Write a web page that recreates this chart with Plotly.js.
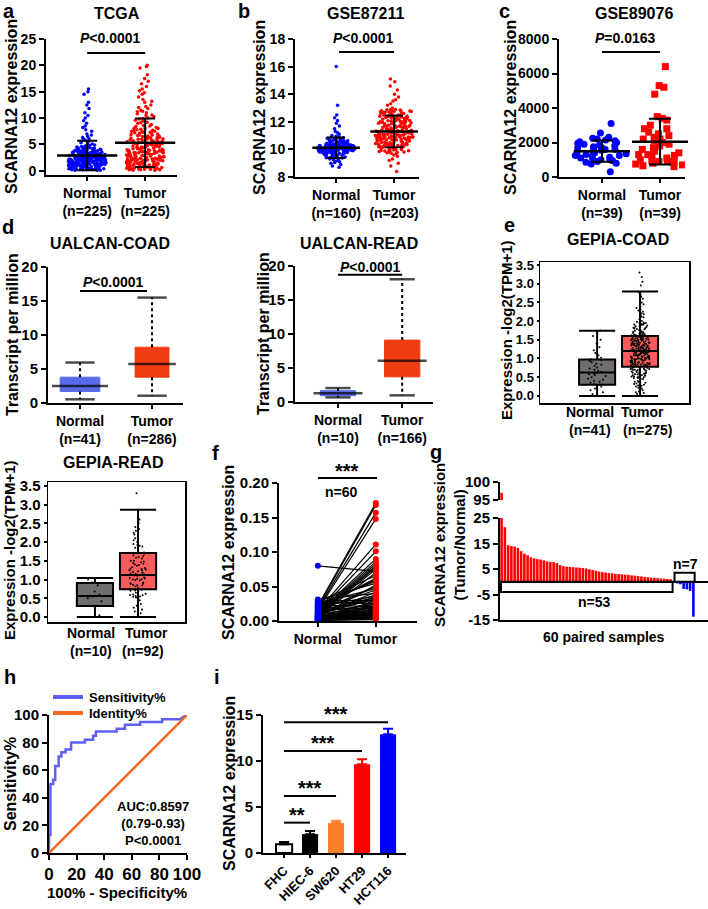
<!DOCTYPE html>
<html><head><meta charset="utf-8">
<script src="https://cdn.plot.ly/plotly-3.0.1.min.js"></script>
<style>html,body{margin:0;padding:0;background:#fff;}#chart{width:708px;height:909px;}</style>
</head><body><div id="chart"></div>
<script>
// ---------------- DATA ----------------
const groups = ['Normal', 'Tumor'];
const nA = ['(n=225)', '(n=225)'];
const nB = ['(n=160)', '(n=203)'];
const nC = ['(n=39)', '(n=39)'];
const nD1 = ['(n=41)', '(n=286)'];
const nD2 = ['(n=10)', '(n=166)'];
const nE = ['(n=41)', '(n=275)'];
const nR = ['(n=10)', '(n=92)'];

// a: TCGA
const tcgaNormal = [15.5,15.0,14.5,13.0,12.5,11.8,11.0,10.5,10.0,9.5,9.0,8.5,8.2,7.8,7.5,
7.0,6.8,6.5,6.3,6.1,6.0,5.8,5.6,5.5,5.3,5.1,5.0,4.9,4.8,4.7,
0.1,0.3,0.5,0.8,1.0,1.2,1.5,1.7,2.0,2.2,2.5,2.8,3.1,3.5,4.0,
0.2,0.4,0.7,0.9,1.1,1.4,1.6,1.9,2.1,2.4,2.6,2.9,3.3,3.8,4.4,
0.3,0.6,0.8,1.0,1.3,1.5,1.8,2.0,2.3,2.5,2.7,3.0,3.4,3.9,4.5,
0.1,0.4,0.6,0.9,1.2,1.4,1.7,1.9,2.2,2.4,2.7,3.0,3.2,3.6,4.2,
0.2,0.5,0.7,1.0,1.3,1.6,1.8,2.1,2.3,2.6,2.9,3.1,3.4,3.7,4.1,
0.4,0.6,0.9,1.1,1.4,1.6,1.9,2.2,2.4,2.6,2.8,3.2,3.5,3.9,4.3,
0.2,0.5,0.8,1.0,1.2,1.5,1.7,2.0,2.3,2.5,2.8,3.0,3.3,3.6,4.6,
0.3,0.5,0.7,1.1,1.3,1.5,1.8,2.1,2.2,2.5,2.7,2.9,3.2,3.5,3.9,
0.1,0.4,0.7,0.9,1.2,1.4,1.6,1.9,2.1,2.3,2.6,2.9,3.1,3.4,3.8,
0.2,0.6,0.8,1.0,1.3,1.6,1.9,2.0,2.4,2.6,2.8,3.0,3.3,3.7,4.2,
0.3,0.5,0.9,1.1,1.4,1.7,1.8,2.1,2.3,2.5,2.7,3.1,3.4,3.8,4.4,
0.5,0.7,1.0,1.2,1.5,1.7,2.0,2.2,2.4,2.7,2.9,3.2,3.5,4.0,4.5,
0.4,0.6,0.9,1.2,1.4,1.7,1.9,2.2,2.4,2.6,3.0,3.3,3.6,4.1,4.3];
const tcgaTumor = [20,19.8,19.5,18.2,17.5,17.0,16.5,16.0,15.5,15.2,14.8,14.5,14.0,13.5,13.2,13.0,12.5,12.2,
12.0,11.8,11.5,11.3,11.0,10.8,10.5,10.3,10.0,9.8,9.6,9.4,9.2,9.0,8.8,8.6,8.4,8.2,8.0,11.2,10.6,9.9,9.1,8.5,8.1,
0.2,0.6,1.0,1.5,2.0,2.5,3.0,3.5,4.0,4.6,5.2,5.9,6.6,7.5,
0.3,0.7,1.2,1.6,2.1,2.6,3.1,3.6,4.2,4.8,5.4,6.0,6.8,7.7,
0.1,0.5,0.9,1.4,1.9,2.4,2.9,3.4,3.9,4.5,5.1,5.7,6.4,7.3,
0.4,0.8,1.1,1.7,2.2,2.7,3.2,3.7,4.3,4.9,5.5,6.2,7.0,7.9,
0.2,0.6,1.0,1.3,1.8,2.3,2.8,3.3,3.8,4.4,5.0,5.6,6.3,7.2,
0.3,0.7,1.1,1.6,2.0,2.5,3.0,3.6,4.1,4.7,5.3,5.9,6.7,7.6,
0.5,0.9,1.3,1.8,2.3,2.8,3.3,3.8,4.4,5.0,5.6,6.1,6.9,7.8,
0.2,0.6,1.2,1.5,2.1,2.6,3.1,3.5,4.0,4.6,5.2,5.8,6.5,7.4,
0.1,0.4,0.8,1.4,1.9,2.4,2.9,3.4,4.0,4.5,5.1,5.7,6.2,7.1,
0.3,0.8,1.2,1.7,2.2,2.7,3.2,3.7,4.2,4.8,5.4,6.0,6.6,7.5,
0.4,0.7,1.0,1.5,2.0,2.6,3.0,3.5,4.1,4.7,5.3,5.9,6.4,7.3,
0.2,0.5,0.9,1.3,1.8,2.3,2.9,3.4,3.9,4.4,5.0,5.5,6.1,6.8,
0.6,1.0,1.4,1.9,2.4,2.9,3.4,3.9,4.3,4.9,5.5,6.3,7.1,8.0];
const tcgaMean = [2.9, 5.3];
const tcgaSD = [2.8, 4.6];

// b: GSE87211
const gse87Normal = [16.0,13.2,12.5,12.3,12.1,11.9,11.7,11.5,11.3,11.2,11.1,11.0,10.95,10.9,8.7,8.8,8.9,9.0,9.05,9.1,
9.3,9.6,9.8,9.9,10.0,10.1,10.2,10.4,10.6,10.8,
9.4,9.7,9.8,9.95,10.05,10.15,10.25,10.35,10.5,10.7,
9.2,9.5,9.75,9.9,10.0,10.1,10.2,10.3,10.45,10.65,
9.5,9.7,9.85,9.95,10.05,10.12,10.22,10.4,10.55,10.85,
9.35,9.6,9.78,9.92,10.02,10.1,10.18,10.28,10.42,10.6,
9.45,9.65,9.82,9.97,10.07,10.14,10.24,10.33,10.48,10.75,
9.25,9.55,9.72,9.88,9.98,10.08,10.16,10.27,10.38,10.58,
9.55,9.75,9.86,9.94,10.04,10.11,10.21,10.31,10.44,10.62,
9.4,9.62,9.8,9.9,10.0,10.09,10.19,10.29,10.4,10.52,
9.3,9.58,9.76,9.89,9.99,10.06,10.17,10.26,10.36,10.68,
9.48,9.68,9.84,9.93,10.03,10.13,10.23,10.34,10.46,10.72,
9.38,9.63,9.79,9.91,10.01,10.1,10.2,10.3,10.5,10.8,
9.6,9.78,9.87,9.96,10.06,10.16,10.26,10.37,10.55,10.9,
9.15,9.45,9.7,9.85,9.97,10.05,10.14,10.24,10.39,10.63];
const gse87Tumor = [15.1,14.9,14.6,14.3,14.0,13.8,13.6,13.5,13.3,13.2,13.0,
8.4,8.8,9.0,9.2,9.3,9.5,9.6,
9.8,10.2,10.5,10.8,11.0,11.3,11.6,11.9,12.3,12.8,
9.9,10.3,10.6,10.9,11.1,11.4,11.7,12.0,12.4,12.9,
9.7,10.1,10.4,10.7,11.0,11.2,11.5,11.8,12.2,12.6,
10.0,10.4,10.7,10.9,11.2,11.4,11.7,12.1,12.5,12.7,
9.85,10.25,10.55,10.85,11.05,11.35,11.65,11.95,12.35,12.75,
10.05,10.35,10.65,10.95,11.15,11.45,11.75,12.05,12.45,12.85,
9.75,10.15,10.45,10.75,10.98,11.25,11.55,11.85,12.25,12.65,
9.95,10.3,10.6,10.88,11.08,11.38,11.68,12.0,12.38,12.78,
10.1,10.4,10.7,10.92,11.12,11.42,11.72,12.08,12.48,12.88,
9.8,10.2,10.52,10.82,11.02,11.32,11.62,11.92,12.28,12.7,
9.9,10.28,10.58,10.86,11.06,11.36,11.66,11.98,12.32,12.72,
10.0,10.38,10.68,10.9,11.1,11.4,11.7,12.02,12.42,12.82,
9.72,10.12,10.48,10.78,11.0,11.28,11.58,11.88,12.2,12.6,
9.92,10.32,10.62,10.84,11.04,11.34,11.64,11.94,12.3,12.74,
10.08,10.42,10.72,10.94,11.14,11.44,11.74,12.1,12.5,12.9,
9.82,10.22,10.5,10.8,11.01,11.3,11.6,11.9,12.26,12.68,
9.96,10.36,10.64,10.9,11.09,11.39,11.69,12.04,12.4,12.8,
9.88,10.18,10.46,10.76,10.99,11.27,11.57,11.87,12.18,12.58,
11.2,11.5,10.9,12.1,11.0];
const gse87Mean = [10.12, 11.3];
const gse87SD = [0.75, 1.15];

// c: GSE89076
const gse89Normal = [3100,2550,2300,2250,2200,2150,2100,2050,2000,1950,1900,1850,1800,1750,1700,1650,1600,1550,1500,1450,
1400,1350,1300,1250,1200,1150,1100,1050,1000,950,900,850,800,750,1600,1700,1250,1000,300];
const gse89Tumor = [6400,5300,5200,4800,3500,3400,3300,3000,2800,2600,2500,2400,2300,2200,2100,2000,1900,1800,1700,1600,
1500,1400,1300,1250,1200,1100,1000,950,900,850,800,750,700,650,600,2800,2200,1300,900];
const gse89Mean = [1500, 2050];
const gse89SD = [620, 1320];

// d: UALCAN box statistics
const ucoadMin = [0.54, 1.07], ucoadQ1 = [1.7, 3.8], ucoadMed = [2.5, 5.75], ucoadQ3 = [3.8, 8.2], ucoadMax = [5.95, 15.5];
const ureadMin = [0.68, 0.98], ureadQ1 = [0.93, 3.7], ureadMed = [1.27, 6.05], ureadQ3 = [1.66, 9.1], ureadMax = [2.05, 18.05];

// e: GEPIA-COAD
const gcoadMin = [0, 0], gcoadQ1 = [0.30, 0.78], gcoadMed = [0.625, 1.2], gcoadQ3 = [0.97, 1.60], gcoadMax = [1.74, 2.79];
const gcoadNormalPts = [0.0,0.05,0.1,0.15,0.2,0.25,0.28,0.3,0.32,0.35,0.38,0.4,0.43,0.46,0.5,0.53,0.56,0.6,0.62,0.64,
0.67,0.7,0.73,0.76,0.8,0.83,0.86,0.9,0.93,0.96,0.98,1.02,1.08,1.15,1.22,1.3,1.4,1.5,1.6,1.75,0.58];
const gcoadTumorPts = [0.30,0.60,0.80,0.95,1.08,1.20,1.32,1.45,1.60,1.85,2.30,
0.35,0.62,0.82,0.97,1.10,1.22,1.34,1.47,1.62,1.88,2.35,
0.25,0.58,0.78,0.93,1.06,1.18,1.30,1.43,1.58,1.82,2.25,
0.40,0.65,0.84,0.99,1.12,1.24,1.36,1.49,1.64,1.90,2.40,
0.20,0.55,0.76,0.91,1.04,1.16,1.28,1.41,1.56,1.80,2.20,
0.45,0.67,0.86,1.01,1.14,1.26,1.38,1.51,1.66,1.93,2.45,
0.15,0.52,0.74,0.89,1.02,1.14,1.26,1.39,1.54,1.78,2.15,
0.50,0.70,0.88,1.03,1.16,1.28,1.40,1.53,1.68,1.96,2.50,
0.10,0.50,0.72,0.87,1.00,1.12,1.24,1.37,1.52,1.75,2.10,
0.55,0.72,0.90,1.05,1.18,1.30,1.42,1.55,1.70,2.00,2.55,
0.05,0.48,0.70,0.85,0.98,1.10,1.22,1.35,1.50,1.72,2.05,
0.32,0.63,0.81,0.96,1.09,1.21,1.33,1.46,1.61,1.87,2.60,
0.28,0.59,0.79,0.94,1.07,1.19,1.31,1.44,1.59,1.84,2.00,
0.38,0.64,0.83,0.98,1.11,1.23,1.35,1.48,1.63,1.89,2.65,
0.22,0.56,0.77,0.92,1.05,1.17,1.29,1.42,1.57,1.81,1.95,
0.42,0.66,0.85,1.00,1.13,1.25,1.37,1.50,1.65,1.92,2.70,
0.18,0.54,0.75,0.90,1.03,1.15,1.27,1.40,1.55,1.79,2.12,
0.48,0.69,0.87,1.02,1.15,1.27,1.39,1.52,1.67,1.95,2.75,
0.12,0.51,0.73,0.88,1.01,1.13,1.25,1.38,1.53,1.76,2.18,
0.52,0.71,0.89,1.04,1.17,1.29,1.41,1.54,1.69,1.98,2.79,
0.08,0.49,0.71,0.86,0.99,1.11,1.23,1.36,1.51,1.74,2.28,
0.33,0.61,0.81,0.96,1.09,1.21,1.33,1.46,1.61,1.86,2.95,
0.27,0.57,0.79,0.94,1.07,1.19,1.31,1.44,1.59,1.83,3.05,
0.37,0.63,0.83,0.98,1.11,1.23,1.35,1.48,1.63,1.91,3.18,
0.00,0.45,0.69,0.84,0.97,1.09,1.21,1.34,1.49,1.71,3.30];

// GEPIA-READ
const greadMin = [0, 0], greadQ1 = [0.295, 0.74], greadMed = [0.56, 1.12], greadQ3 = [0.91, 1.71], greadMax = [1.04, 2.86];
const greadNormalPts = [0.05,0.3,0.42,0.5,0.55,0.6,0.68,0.85,0.92,1.0];
const greadTumorPts = [0.20,0.55,0.72,0.85,1.00,1.12,1.25,1.40,1.60,1.90,2.30,
0.30,0.58,0.74,0.88,1.02,1.14,1.28,1.44,1.65,1.95,2.40,
0.10,0.52,0.70,0.82,0.98,1.10,1.22,1.37,1.56,1.85,2.20,
0.40,0.60,0.76,0.90,1.04,1.16,1.31,1.48,1.70,2.00,2.50,
0.25,0.56,0.73,0.86,1.01,1.13,1.27,1.42,1.62,1.92,2.35,
0.45,0.62,0.78,0.92,1.06,1.18,1.33,1.50,1.72,2.05,2.60,
0.15,0.54,0.71,0.84,0.99,1.11,1.24,1.39,1.58,1.88,2.25,
0.35,0.59,0.75,0.89,1.03,1.15,1.29,1.46,1.68,2.10,2.86,
3.30,1.20,0.65,1.50];

// f: paired samples
const pairNormal = [0.080,0.031,0.030,0.029,0.028,0.027,0.026,0.025,0.024,0.023,
0.022,0.021,0.020,0.019,0.018,0.017,0.016,0.015,0.015,0.014,
0.013,0.013,0.012,0.012,0.011,0.011,0.010,0.010,0.009,0.009,
0.008,0.008,0.008,0.007,0.007,0.007,0.006,0.006,0.006,0.005,
0.005,0.005,0.004,0.004,0.004,0.003,0.003,0.003,0.002,0.002,
0.002,0.002,0.001,0.001,0.001,0.001,0.020,0.015,0.010,0.005];
const pairTumor = [0.072,0.040,0.055,0.030,0.066,0.025,0.047,0.028,0.058,0.021,
0.171,0.036,0.168,0.062,0.157,0.045,0.148,0.034,0.111,0.050,
0.101,0.024,0.090,0.038,0.086,0.019,0.083,0.032,0.080,0.016,
0.078,0.042,0.075,0.014,0.070,0.027,0.052,0.012,0.022,0.010,
0.020,0.009,0.018,0.008,0.017,0.007,0.015,0.006,0.013,0.005,
0.011,0.004,0.030,0.003,0.025,0.002,0.060,0.020,0.035,0.012];

// g: tumor/normal ratio, 60 paired samples
const ratio = [97,21.4,14.3,14.0,13.8,13.3,12.0,11.0,10.4,9.6,9.2,8.9,8.7,8.4,8.0,7.8,7.7,7.3,6.5,6.1,
5.9,5.8,5.7,5.6,5.5,5.4,5.2,4.9,4.6,4.3,4.0,3.8,3.6,3.4,3.3,3.1,3.0,2.9,2.8,2.7,
2.5,2.4,2.2,2.1,1.9,1.8,1.6,1.5,1.4,1.3,1.2,1.1,1.0,
-0.5,-0.7,-1.0,-2.8,-3.0,-3.6,-13.7];
const ratioTickVals = [-15, -5, 5, 15, 25];
const ratioTickText = ['-15', '-5', '5', '15', '25'];

// h: ROC
const rocX = [0,0,1,1,3,3,4.5,4.5,7,7,9,9,12,12,16,16,26,26,32,32,34,34,49,49,55,55,66,66,82,82,95,97,100];
const rocY = [0,13,13,50,50,53,53,63,63,70,70,73,73,75,75,80,80,82,82,85,85,88,88,90,90,93,93,95,95,97,97,98.5,100];
const identX = [0, 100], identY = [0, 100];
const rocNames = ['Sensitivity%', 'Identity%'];
const rocColors = ['#5f5ff5', '#f26a21'];

// i: cell lines
const cells = ['FHC', 'HIEC-6', 'SW620', 'HT29', 'HCT116'];
const cellMean = [0.95, 2.05, 3.25, 9.65, 12.9];
const cellErr = [0.25, 0.33, 0.25, 0.55, 0.6];
const cellSigPairs = [[0, 1], [0, 2], [0, 3], [0, 4]];
const cellSigLabel = ['**', '***', '***', '***'];
const cellSigLevel = [3.3, 6.2, 11.1, 14.2];

// ---------------- HELPERS ----------------
const W = 708, H = 909;
const PX = x => x / W, PY = y => 1 - y / H;
const dx = (a, b) => [a / W, b / W];
const dy = (t, b) => [1 - b / H, 1 - t / H];
const BLUE = '#0000ff', RED = '#ff0000';
const traces = [];
const shapes = [];
const anns = [];

function swarm(vals, pos, color, xa, ya, size, width, symbol) {
  traces.push({type: 'box', x0: pos, y: vals, name: '', boxpoints: 'all', jitter: 1, pointpos: 0, width: width,
    fillcolor: 'rgba(0,0,0,0)', line: {width: 0, color: 'rgba(0,0,0,0)'},
    marker: {color: color, size: size, symbol: symbol || 'circle', line: {width: 0}},
    xaxis: xa, yaxis: ya, showlegend: false, hoverinfo: 'skip'});
}
function meanSD(means, sds, xa, ya, lineW, capW) {
  traces.push({type: 'scatter', mode: 'markers', x: means.map((_, i) => i), y: means,
    marker: {symbol: 'line-ew', size: lineW, color: 'black', line: {width: 2.5, color: 'black'}},
    error_y: {type: 'data', array: sds, visible: true, color: 'black', thickness: 2, width: capW},
    xaxis: xa, yaxis: ya, showlegend: false, hoverinfo: 'skip', cliponaxis: false});
}
function ualcan(mn, q1, med, q3, mx, colors, wData, medPx, capPx, xa, ya) {
  for (let i = 0; i < 2; i++) {
    traces.push({type: 'box', x: [i], q1: [q1[i]], median: [med[i]], q3: [q3[i]], lowerfence: [q1[i]], upperfence: [q3[i]],
      width: wData[i], fillcolor: colors[i], line: {color: colors[i], width: 1}, whiskerwidth: 0, boxpoints: false,
      xaxis: xa, yaxis: ya, showlegend: false, hoverinfo: 'skip'});
    traces.push({type: 'scatter', mode: 'lines', x: [i, i, null, i, i], y: [q3[i], mx[i], null, q1[i], mn[i]],
      line: {color: 'black', width: 2, dash: 'dot'}, xaxis: xa, yaxis: ya, showlegend: false, hoverinfo: 'skip'});
    traces.push({type: 'scatter', mode: 'markers', x: [i, i, i], y: [mx[i], mn[i], med[i]],
      marker: {symbol: 'line-ew', size: [capPx, capPx, medPx[i]], color: 'black', line: {width: 2.5, color: 'black'}},
      xaxis: xa, yaxis: ya, showlegend: false, hoverinfo: 'skip', cliponaxis: false});
  }
}
function gepia(mn, q1, med, q3, mx, ptsN, ptsT, colors, xa, ya) {
  for (let i = 0; i < 2; i++) {
    traces.push({type: 'box', x: [i], q1: [q1[i]], median: [med[i]], q3: [q3[i]], lowerfence: [mn[i]], upperfence: [mx[i]],
      width: 0.84, fillcolor: colors[i], line: {color: 'black', width: 2}, whiskerwidth: 1, boxpoints: false,
      xaxis: xa, yaxis: ya, showlegend: false, hoverinfo: 'skip'});
  }
  swarm(ptsN, 0, 'black', xa, ya, 2, 0.45);
  swarm(ptsT, 1, 'black', xa, ya, 2, 0.45);
}
function T(text, x, y, size, extra) {
  anns.push(Object.assign({text: text, x: PX(x), y: PY(y), xref: 'paper', yref: 'paper', showarrow: false,
    xanchor: 'center', yanchor: 'middle', font: {size: size}}, extra || {}));
}
function YT(text, x, y, size) { T(text, x, y, size, {textangle: -90}); }
function bracket(x0, x1, y, xa, ya) {
  shapes.push({type: 'line', xref: xa, yref: ya, x0: x0, x1: x1, y0: y, y1: y, line: {color: 'black', width: 2}});
}
function ax(domain, range, extra) {
  return Object.assign({domain: domain, range: range, type: 'linear', showline: true, linecolor: 'black', linewidth: 2,
    ticks: 'outside', ticklen: 5, tickwidth: 2, tickcolor: 'black', showgrid: false, zeroline: false, fixedrange: true,
    tickfont: {size: 14}}, extra || {});
}
const catTicks = n => groups.map((g, i) => g + '<br>' + n[i]);

// ---------------- TRACES ----------------
// a
swarm(tcgaNormal, 0, BLUE, 'x', 'y', 3.5, 0.65);
swarm(tcgaTumor, 1, RED, 'x', 'y', 3.5, 0.65);
meanSD(tcgaMean, tcgaSD, 'x', 'y', 43, 10);
// b
swarm(gse87Normal, 0, BLUE, 'x2', 'y2', 3.5, 0.65);
swarm(gse87Tumor, 1, RED, 'x2', 'y2', 3.5, 0.65);
meanSD(gse87Mean, gse87SD, 'x2', 'y2', 34, 9);
// c
swarm(gse89Normal, 0, BLUE, 'x3', 'y3', 7, 1.0, 'circle');
swarm(gse89Tumor, 1, RED, 'x3', 'y3', 7, 1.0, 'square');
meanSD(gse89Mean, gse89SD, 'x3', 'y3', 40, 11);
// d
ualcan(ucoadMin, ucoadQ1, ucoadMed, ucoadQ3, ucoadMax, ['#5a6ae6', '#f03c12'], [0.55, 0.47], [40, 34], 21, 'x4', 'y4');
ualcan(ureadMin, ureadQ1, ureadMed, ureadQ3, ureadMax, ['#5a6ae6', '#f03c12'], [0.55, 0.55], [35, 35], 18, 'x5', 'y5');
// e
gepia(gcoadMin, gcoadQ1, gcoadMed, gcoadQ3, gcoadMax, gcoadNormalPts, gcoadTumorPts, ['#6e6e6e', '#fa5c5c'], 'x6', 'y6');
gepia(greadMin, greadQ1, greadMed, greadQ3, greadMax, greadNormalPts, greadTumorPts, ['#6e6e6e', '#fa5c5c'], 'x7', 'y7');
// f
const fx = [], fy = [];
pairNormal.forEach((v, i) => { fx.push(0, 1, null); fy.push(v, pairTumor[i], null); });
traces.push({type: 'scatter', mode: 'lines', x: fx, y: fy, line: {color: 'black', width: 1.2},
  xaxis: 'x8', yaxis: 'y8', showlegend: false, hoverinfo: 'skip', cliponaxis: false});
traces.push({type: 'scatter', mode: 'markers', x: pairNormal.map(() => 0), y: pairNormal,
  marker: {color: BLUE, size: 6}, xaxis: 'x8', yaxis: 'y8', showlegend: false, hoverinfo: 'skip', cliponaxis: false});
traces.push({type: 'scatter', mode: 'markers', x: pairTumor.map(() => 1), y: pairTumor,
  marker: {color: RED, size: 6}, xaxis: 'x8', yaxis: 'y8', showlegend: false, hoverinfo: 'skip', cliponaxis: false});
// g
const gIdx = ratio.map((_, i) => i);
const gCol = ratio.map(v => v >= 0 ? RED : BLUE);
traces.push({type: 'bar', x: gIdx, y: ratio, width: 0.8, marker: {color: gCol, line: {width: 0}},
  xaxis: 'x9', yaxis: 'y9', showlegend: false, hoverinfo: 'skip'});
traces.push({type: 'bar', x: gIdx, y: ratio, width: 0.8, marker: {color: gCol, line: {width: 0}},
  xaxis: 'x10', yaxis: 'y10', showlegend: false, hoverinfo: 'skip'});
// h
traces.push({type: 'scatter', mode: 'lines', x: rocX, y: rocY, name: rocNames[0], line: {color: rocColors[0], width: 2.5},
  xaxis: 'x11', yaxis: 'y11', showlegend: false, hoverinfo: 'skip'});
traces.push({type: 'scatter', mode: 'lines', x: identX, y: identY, name: rocNames[1], line: {color: rocColors[1], width: 2.5},
  xaxis: 'x11', yaxis: 'y11', showlegend: false, hoverinfo: 'skip'});
// i
const cellFill = ['#ffffff', '#000000', '#ff7f27', '#ff0000', '#0000ff'];
const cellEdge = ['#000000', '#000000', '#ff7f27', '#ff0000', '#0000ff'];
cells.forEach((c, i) => {
  traces.push({type: 'bar', x: [i], y: [cellMean[i]], width: 0.62,
    marker: {color: cellFill[i], line: {color: cellEdge[i], width: i === 0 ? 2 : 0}},
    error_y: {type: 'data', array: [cellErr[i]], arrayminus: [0], symmetric: false, visible: true, color: cellEdge[i], thickness: 2, width: 5},
    xaxis: 'x12', yaxis: 'y12', showlegend: false, hoverinfo: 'skip'});
});

// ---------------- SHAPES / TEXT ----------------
bracket(0, 1, 22.35, 'x', 'y');
bracket(0.05, 1, 17.06, 'x2', 'y2');
bracket(0, 1, 7250, 'x3', 'y3');
bracket(0, 0.93, 16.47, 'x4', 'y4');
bracket(0, 1, 18.7, 'x5', 'y5');
shapes.push({type: 'line', xref: 'paper', yref: 'paper', x0: PX(318), x1: PX(377), y0: PY(478), y1: PY(478), line: {color: 'black', width: 2}});
shapes.push({type: 'rect', xref: 'x9', yref: 'y9', x0: -0.2, x1: 52.6, y0: 0, y1: -4, line: {color: 'black', width: 2}});
shapes.push({type: 'rect', xref: 'x9', yref: 'y9', x0: 53.2, x1: 59.4, y0: 0, y1: 3.5, line: {color: 'black', width: 2}});
cellSigPairs.forEach((p, k) => {
  bracket(p[0], p[1], cellSigLevel[k], 'x12', 'y12');
  anns.push({text: cellSigLabel[k], x: (p[0] + p[1]) / 2, y: cellSigLevel[k], xref: 'x12', yref: 'y12', showarrow: false,
    xanchor: 'center', yanchor: 'middle', yshift: 8, font: {size: 20}});
});
// ROC legend (key samples + labels)
rocNames.forEach((nm, k) => {
  const yy = 697 + k * 16;
  shapes.push({type: 'line', xref: 'paper', yref: 'paper', x0: PX(53), x1: PX(83), y0: PY(yy), y1: PY(yy), line: {color: rocColors[k], width: 4}});
  T(nm, 87, yy, 13, {xanchor: 'left'});
});

// panel letters
[['a', 9, 11], ['b', 244, 11], ['c', 505, 11], ['d', 8, 227], ['e', 509, 225], ['f', 215, 453], ['g', 436, 452], ['h', 10, 677], ['i', 217, 677]]
  .forEach(l => T(l[0], l[1], l[2], 20));
// titles
T('TCGA', 117, 13, 16); T('GSE87211', 366, 13, 16); T('GSE89076', 634, 13, 16);
T('UALCAN-COAD', 110, 243, 16); T('UALCAN-READ', 359, 243, 16); T('GEPIA-COAD', 618, 240, 16);
T('GEPIA-READ', 113, 462, 16);
// p-values
T('<i>P</i>&lt;0.0001', 110, 38, 14); T('<i>P</i>&lt;0.0001', 363, 38, 14); T('<i>P</i>=0.0163', 625, 38, 14);
T('<i>P</i>&lt;0.0001', 113, 282, 14); T('<i>P</i>&lt;0.0001', 370, 267, 14);
T('***', 347, 471, 20); T('n=60', 341, 492, 14);
T('n=53', 594, 602, 14); T('n=7', 685, 564, 14);
// y titles
YT('SCARNA12 expression', 11, 107, 16); YT('SCARNA12 expression', 259, 108, 16); YT('SCARNA12 expression', 510, 108, 16);
YT('Transcript per million', 12, 335, 16); YT('Transcript per million', 263, 334, 16);
YT('Expression -log2(TPM+1)', 507, 330, 15); YT('Expression -log2(TPM+1)', 9, 550, 15);
YT('SCARNA12 expression', 228, 552, 16); YT('SCARNA12 expression<br>(Tumor/Normal)', 449, 545, 15);
YT('Sensitivity%', 10, 784, 16); YT('SCARNA12 expression', 229, 784, 16);
// x titles / labels
T('60 paired samples', 604, 637, 14); T('100% - Specificity%', 117, 892, 15);
T(groups[0], 590, 412, 14); T(groups[1], 642, 412, 14); T(nE[0], 590, 430, 14); T(nE[1], 647, 430, 14);
T(groups[0], 91, 633, 14); T(groups[1], 146, 633, 14); T(nR[0], 91, 651, 14); T(nR[1], 143, 651, 14);
anns.push({text: 'AUC:0.8597<br>(0.79-0.93)<br>P&lt;0.0001', x: 75.4, y: 21.7, xref: 'x11', yref: 'y11', showarrow: false,
  xanchor: 'center', yanchor: 'middle', font: {size: 13}});

// ---------------- LAYOUT ----------------
const layout = {
  width: W, height: H, margin: {l: 0, r: 0, t: 0, b: 0}, paper_bgcolor: 'white', plot_bgcolor: 'rgba(0,0,0,0)',
  font: {family: 'Liberation Sans, Arial, sans-serif', size: 13, color: 'black', weight: 'bold'},
  showlegend: false, hovermode: false, boxmode: 'overlay', barmode: 'overlay',
  xaxis: ax(dx(46, 177), [-0.71, 1.55], {anchor: 'y', tickvals: [0, 1], ticktext: catTicks(nA), ticklen: 4}),
  yaxis: ax(dy(39, 175), [-0.8, 25], {anchor: 'x', tickvals: [0, 5, 10, 15, 20, 25]}),
  xaxis2: ax(dx(295, 419), [-0.71, 1.43], {anchor: 'y2', tickvals: [0, 1], ticktext: catTicks(nB), ticklen: 4}),
  yaxis2: ax(dy(39, 177), [8, 18], {anchor: 'x2', tickvals: [8, 10, 12, 14, 16, 18]}),
  xaxis3: ax(dx(559, 685), [-0.74, 1.43], {anchor: 'y3', tickvals: [0, 1], ticktext: catTicks(nC), ticklen: 4}),
  yaxis3: ax(dy(39, 177), [0, 8000], {anchor: 'x3', tickvals: [0, 2000, 4000, 6000, 8000]}),
  xaxis4: ax(dx(48, 183), [-0.444, 1.43], {anchor: 'y4', tickvals: [0, 1], ticktext: catTicks(nD1), ticklen: 4}),
  yaxis4: ax(dy(267, 403), [0, 20], {anchor: 'x4', tickvals: [0, 5, 10, 15, 20], tickfont: {size: 15}}),
  xaxis5: ax(dx(295, 433), [-0.67, 1.48], {anchor: 'y5', tickvals: [0, 1], ticktext: catTicks(nD2), ticklen: 4}),
  yaxis5: ax(dy(266, 402), [0, 20], {anchor: 'x5', tickvals: [0, 5, 10, 15, 20], tickfont: {size: 15}}),
  xaxis6: ax(dx(540, 689), [-1.33, 2.14], {anchor: 'y6', showticklabels: false, ticks: '', mirror: true, linewidth: 1.5}),
  yaxis6: ax(dy(262, 403), [-0.19, 3.58], {anchor: 'x6', mirror: true, linewidth: 1.5, ticklen: 2, tickvals: [0, 0.5, 1, 1.5, 2, 2.5, 3, 3.5], tickformat: '.1f', tickfont: {size: 13}}),
  xaxis7: ax(dx(48, 185), [-1.09, 2.09], {anchor: 'y7', showticklabels: false, ticks: '', mirror: true, linewidth: 1.5}),
  yaxis7: ax(dy(482, 622), [-0.13, 3.6], {anchor: 'x7', mirror: true, linewidth: 1.5, ticklen: 3, tickvals: [0, 0.5, 1, 1.5, 2, 2.5, 3, 3.5], tickformat: '.1f', tickfont: {size: 15}}),
  xaxis8: ax(dx(279, 417), [-0.67, 1.71], {anchor: 'y8', tickvals: [0, 1], ticktext: groups, ticklen: 4}),
  yaxis8: ax(dy(483, 621), [0, 0.2], {anchor: 'x8', tickvals: [0, 0.05, 0.1, 0.15, 0.2], tickformat: '.2f', tickfont: {size: 15}}),
  xaxis9: ax(dx(500, 708), [-0.5, 63.5], {anchor: 'y9', showticklabels: false, ticks: ''}),
  yaxis9: ax(dy(518, 620), [-15, 25], {anchor: 'x9', tickvals: ratioTickVals, ticktext: ratioTickText, zeroline: true, zerolinecolor: 'black', zerolinewidth: 2, tickfont: {size: 15}}),
  xaxis10: ax(dx(500, 708), [-0.5, 63.5], {anchor: 'y10', visible: false}),
  yaxis10: ax(dy(482, 500), [95, 100], {anchor: 'x10', tickvals: [95, 100], tickfont: {size: 15}}),
  xaxis11: ax(dx(49, 187), [0, 100], {anchor: 'y11', tickvals: [0, 20, 40, 60, 80, 100], tickfont: {size: 17}}),
  yaxis11: ax(dy(715, 853), [0, 100], {anchor: 'x11', tickvals: [0, 20, 40, 60, 80, 100], tickfont: {size: 15}}),
  xaxis12: ax(dx(263, 406), [-0.81, 4.69], {anchor: 'y12', tickvals: cells.map((_, i) => i), ticktext: cells, tickangle: -45, ticklen: 3, tickfont: {size: 13}}),
  yaxis12: ax(dy(715, 853), [0, 15], {anchor: 'x12', tickvals: [0, 5, 10, 15], tickfont: {size: 15}}),
  shapes: shapes,
  annotations: anns
};
Plotly.newPlot('chart', traces, layout, {staticPlot: true, displayModeBar: false});
</script></body></html>
